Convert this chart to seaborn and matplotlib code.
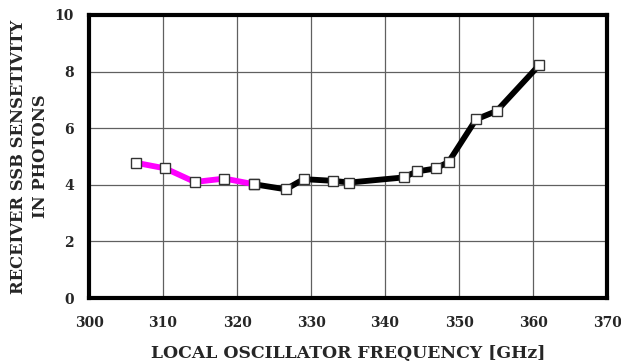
import matplotlib
matplotlib.use("Agg")
import matplotlib.pyplot as plt
import seaborn as sns
import pandas as pd

# LO frequency [GHz] and SSB sensitivity [photons]
freq_low = [306.3, 310.3, 314.3, 318.3, 322.3]
sens_low = [4.78, 4.58, 4.10, 4.22, 4.02]

freq_high = [322.3, 326.6, 329.0, 333.0, 335.2, 342.5, 344.3, 346.9, 348.6,
             352.3, 355.1, 360.8]
sens_high = [4.02, 3.84, 4.20, 4.14, 4.08, 4.26, 4.47, 4.58, 4.81,
             6.31, 6.61, 8.22]

x_ticks = [300, 310, 320, 330, 340, 350, 360, 370]
y_ticks = [0, 2, 4, 6, 8, 10]

sns.set_theme(style="white")
plt.rcParams["font.family"] = ["DejaVu Serif"]
plt.rcParams["font.weight"] = "bold"

df_low = pd.DataFrame({"f": freq_low, "s": sens_low})
df_high = pd.DataFrame({"f": freq_high, "s": sens_high})

fig = plt.figure(figsize=(6.21, 3.64), dpi=100)
ax = fig.add_axes([89 / 621, 1 - 298 / 364, (607 - 89) / 621, (298 - 15) / 364])

line_kw = dict(linewidth=4.2, marker="s", markersize=7.0,
               markerfacecolor="white", markeredgecolor="#333333",
               markeredgewidth=1.0, sort=False, estimator=None, ax=ax)
sns.lineplot(data=df_high, x="f", y="s", color="black", zorder=3, **line_kw)
sns.lineplot(data=df_low, x="f", y="s", color="#ff00ff", zorder=4, **line_kw)

ax.set_xlim(300, 370)
ax.set_ylim(0, 10)
ax.set_xticks(x_ticks)
ax.set_yticks(y_ticks)
ax.grid(True, color="#606060", linewidth=0.9)
ax.set_axisbelow(True)
for side in ["left", "right", "top", "bottom"]:
    ax.spines[side].set_visible(True)
    ax.spines[side].set_color("black")
    ax.spines[side].set_linewidth(3.0)

ax.tick_params(axis="x", length=0, labelsize=10, pad=13)
ax.tick_params(axis="y", length=0, labelsize=10, pad=11)
for lbl in ax.get_xticklabels() + ax.get_yticklabels():
    lbl.set_fontweight("bold")

ax.set_xlabel("LOCAL OSCILLATOR FREQUENCY [GHz]", fontsize=12.4,
              fontweight="bold", labelpad=11)
ax.set_ylabel("RECEIVER SSB SENSETIVITY\nIN PHOTONS", fontsize=11.8,
              fontweight="bold", labelpad=4, linespacing=1.35)

fig.savefig("out.png", dpi=100)
